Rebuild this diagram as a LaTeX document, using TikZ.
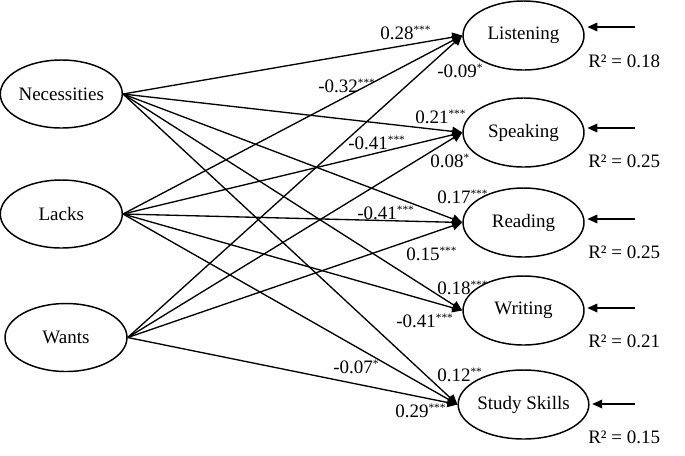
\documentclass[tikz,border=0pt]{standalone}
\usepackage{fontspec}
\setmainfont{Liberation Serif}
\usetikzlibrary{shapes.geometric,arrows.meta}
\newcommand\sig[1]{\raisebox{3.8pt}{\fontsize{8.5}{8.5}\selectfont #1}}
\begin{document}
\begin{tikzpicture}[x=0.75pt,y=-0.75pt,
 every node/.style={font=\fontsize{14.25}{17}\selectfont},
 latent/.style={ellipse,draw,line width=1.1pt,minimum width=91.5pt,minimum height=51pt,inner sep=0pt},
 dep/.style={ellipse,draw,line width=1.1pt,minimum width=90.75pt,minimum height=51.75pt,inner sep=0pt},
 effect/.style={line width=1pt,-{Triangle[length=7.5pt,width=7pt]}},
 err/.style={line width=1pt,shorten >=2pt,-{Triangle[length=7.5pt,width=6.5pt]}},
 coef/.style={anchor=base west,inner sep=0pt},
 rsq/.style={anchor=base west,inner sep=0pt}]
\useasboundingbox (0,0) rectangle (685,455);
% exogenous
\node[latent] (nec) at (61.3,94) {Necessities};
\node[latent] (lac) at (61.3,214) {Lacks};
\node[latent] (wan) at (66,337.5) {Wants};
% endogenous
\node[dep] (lis) at (523.5,35.5) {Listening};
\node[dep] (spe) at (523.5,132.5) {Speaking};
\node[dep] (rea) at (523.5,222.5) {Reading};
\node[dep] (wri) at (523.5,310.5) {Writing};
\node[dep] (stu) at (523.5,404.5) {Study Skills};
% paths
\draw[effect] (nec.east) -- (lis.west);
\draw[effect] (nec.east) -- (spe.west);
\draw[effect] (nec.east) -- (rea.west);
\draw[effect] (nec.east) -- (wri.west);
\draw[effect] (nec.east) -- (stu.west);
\draw[effect] (lac.east) -- (lis.west);
\draw[effect] (lac.east) -- (spe.west);
\draw[effect] (lac.east) -- (rea.west);
\draw[effect] (lac.east) -- (wri.west);
\draw[effect] (lac.east) -- (stu.west);
\draw[effect] (wan.east) -- (lis.west);
\draw[effect] (wan.east) -- (spe.west);
\draw[effect] (wan.east) -- (rea.west);
\draw[effect] (wan.east) -- (stu.west);
% coefficients
\node[coef] (c1) at (380,39) {0.28\sig{***}};
\node[coef] (c2) at (318,92) {-0.32\sig{***}};
\node[coef] (c3) at (437,77) {-0.09\sig{*}};
\node[coef] (c4) at (415,123) {0.21\sig{***}};
\node[coef] (c5) at (348,149) {-0.41\sig{***}};
\node[coef] (c6) at (430,167) {0.08\sig{*}};
\node[coef] (c7) at (437,203) {0.17\sig{***}};
\node[coef] (c8) at (357,219) {-0.41\sig{***}};
\node[coef] (c9) at (406,260) {0.15\sig{***}};
\node[coef] (c10) at (437,294) {0.18\sig{***}};
\node[coef] (c11) at (396,327) {-0.41\sig{***}};
\node[coef] (c12) at (333,373) {-0.07\sig{*}};
\node[coef] (c13) at (437,381) {0.12\sig{**}};
\node[coef] (c14) at (395,417) {0.29\sig{***}};
% residual arrows
\coordinate (elis) at (635,27);
\coordinate (espe) at (635,128);
\coordinate (erea) at (635,219);
\coordinate (ewri) at (635,308);
\coordinate (estu) at (635,404);
\draw[err] (elis) -- (elis -| lis.east);
\draw[err] (espe) -- (espe -| spe.east);
\draw[err] (erea) -- (erea -| rea.east);
\draw[err] (ewri) -- (ewri -| wri.east);
\draw[err] (estu) -- (estu -| stu.east);
% R squared
\node[rsq] (r1) at (588,67) {R² = 0.18};
\node[rsq] (r2) at (588,167) {R² = 0.25};
\node[rsq] (r3) at (588,258) {R² = 0.25};
\node[rsq] (r4) at (588,347) {R² = 0.21};
\node[rsq] (r5) at (588,443) {R² = 0.15};
\end{tikzpicture}
\end{document}
